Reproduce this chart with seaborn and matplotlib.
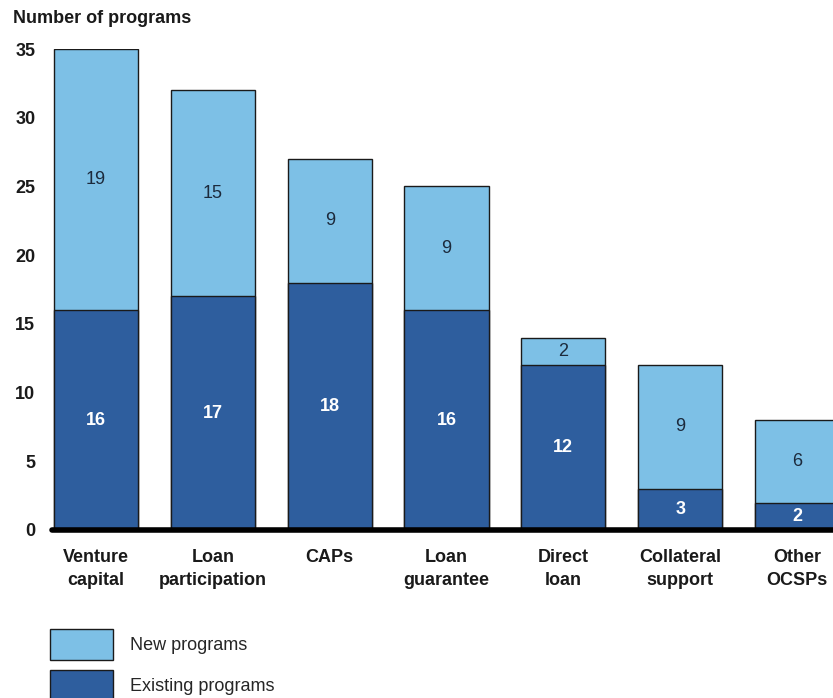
import matplotlib
matplotlib.use("Agg")
import matplotlib.pyplot as plt
import seaborn as sns
import pandas as pd
import numpy as np
from matplotlib.patches import Patch

categories = ["Venture\ncapital", "Loan\nparticipation", "CAPs", "Loan\nguarantee",
              "Direct\nloan", "Collateral\nsupport", "Other\nOCSPs"]
existing = [16, 17, 18, 16, 12, 3, 2]
new = [19, 15, 9, 9, 2, 9, 6]

light = "#7dc0e6"
dark = "#2e5e9e"
FS = 13

sns.set_theme(style="white")
plt.rcParams['font.family'] = ['Liberation Sans', 'DejaVu Sans']

df = pd.DataFrame({"cat": categories, "existing": existing, "new": new})
df["total"] = df["existing"] + df["new"]

fig = plt.figure(figsize=(8.33, 6.98), dpi=100)
ax = fig.add_axes([0.0624, 0.2407, 0.9376, 0.689])

sns.barplot(data=df, x="cat", y="total", color=light, width=0.72,
            edgecolor="#1a1a1a", linewidth=1, saturation=1, ax=ax)
sns.barplot(data=df, x="cat", y="existing", color=dark, width=0.72,
            edgecolor="#1a1a1a", linewidth=1, saturation=1, ax=ax)

for i, (e, n) in enumerate(zip(existing, new)):
    ax.text(i, e / 2, str(e), ha="center", va="center", color="white",
            fontsize=FS, fontweight="bold")
    ax.text(i, e + n / 2, str(n), ha="center", va="center", color="#1c2a3c",
            fontsize=FS)

ax.set_xlim(-0.377, 6.308)
ax.set_ylim(0, 35)
ax.set_yticks(range(0, 36, 5))
ax.set_xlabel("")
ax.set_ylabel("")
for s in ax.spines.values():
    s.set_visible(False)
ax.axhline(0, color="black", linewidth=4, clip_on=False, zorder=5)
ax.tick_params(axis="both", length=0)
ax.tick_params(axis="y", pad=12)
ax.tick_params(axis="x", pad=14)
for lbl in ax.get_yticklabels():
    lbl.set_fontweight("bold")
    lbl.set_fontsize(FS)
    lbl.set_color("#1a1a1a")
for lbl in ax.get_xticklabels():
    lbl.set_fontweight("bold")
    lbl.set_fontsize(FS)
    lbl.set_color("#1a1a1a")
    lbl.set_linespacing(1.4)

fig.text(0.016, 0.985, "Number of programs", fontsize=FS, fontweight="bold",
         ha="left", va="top", color="#1a1a1a")

handles = [Patch(facecolor=light, edgecolor="#1a1a1a", linewidth=1),
           Patch(facecolor=dark, edgecolor="#1a1a1a", linewidth=1)]
fig.legend(handles, ["New programs", "Existing programs"],
           loc="upper left", bbox_to_anchor=(0.06, 0.099), frameon=False,
           fontsize=FS, handlelength=3.5, handleheight=2.25, labelspacing=0.55,
           handletextpad=0.95, borderaxespad=0, borderpad=0)

fig.savefig("out.png", dpi=100)
